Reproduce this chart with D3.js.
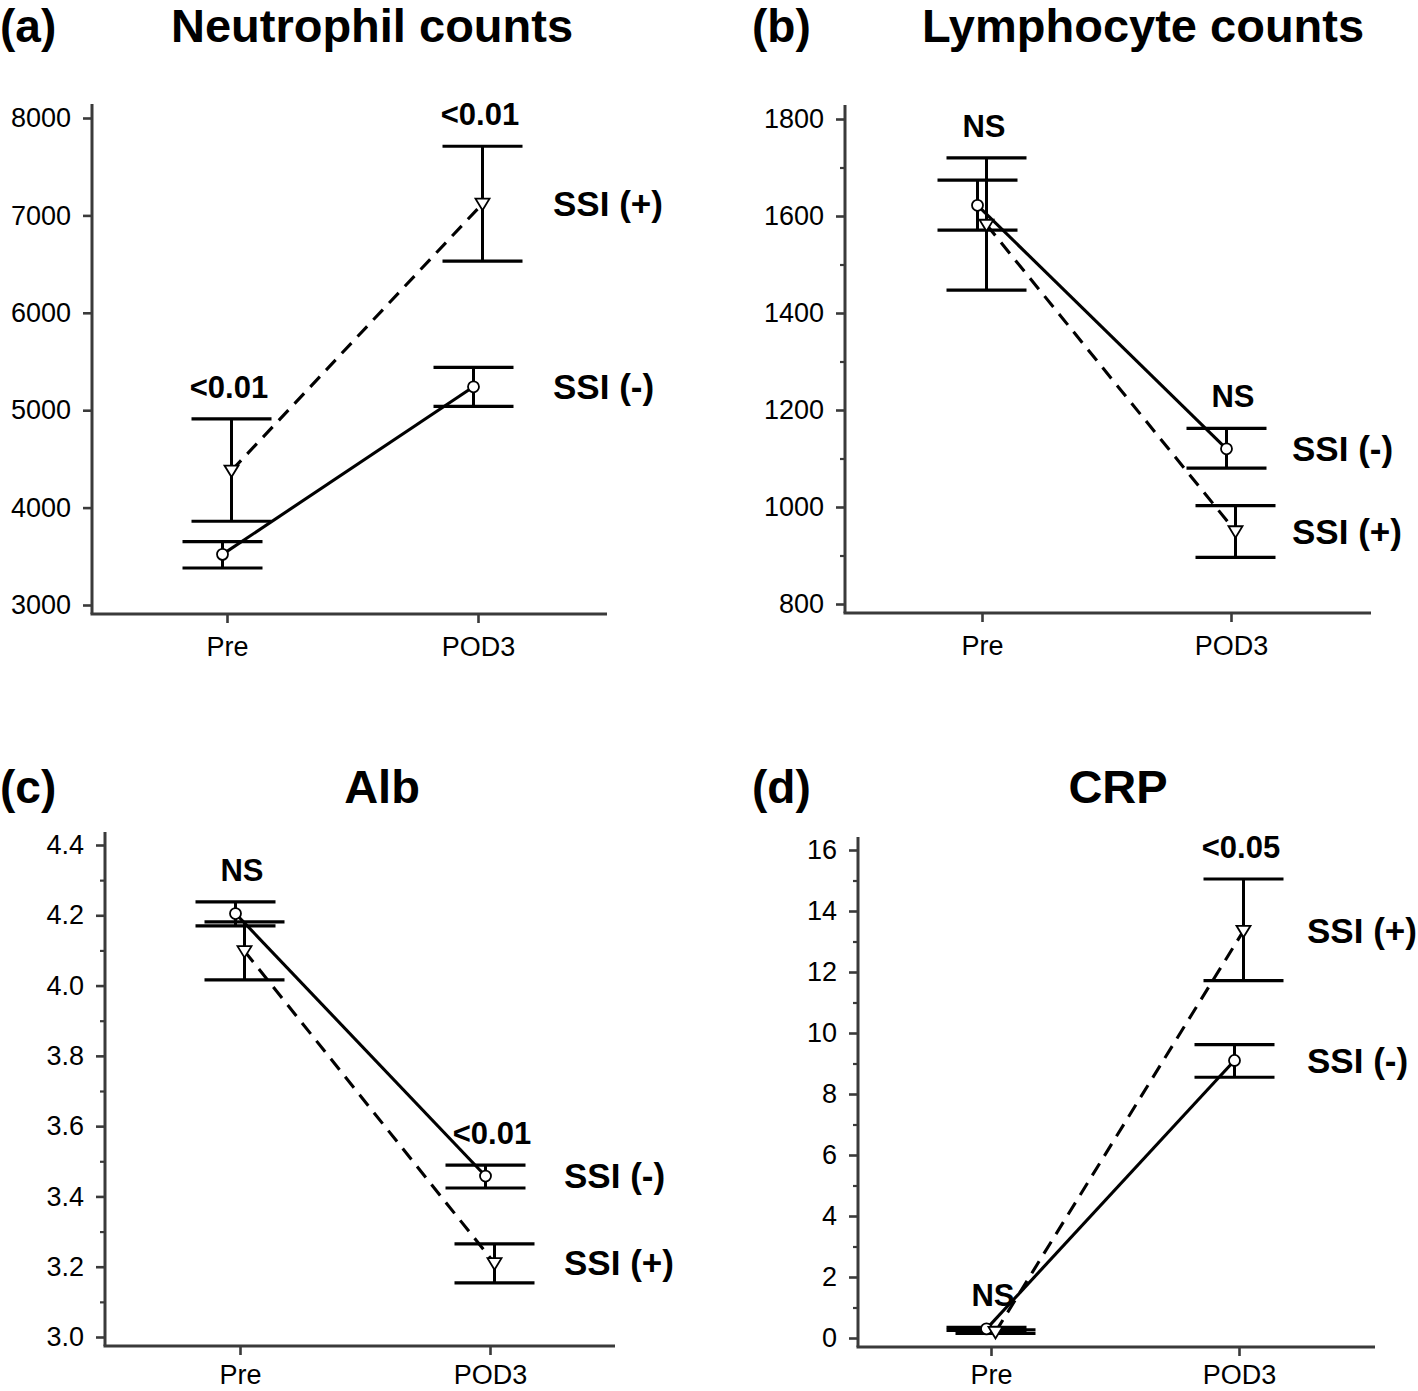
<!DOCTYPE html>
<html><head><meta charset="utf-8">
<script src="https://cdn.jsdelivr.net/npm/d3@7"></script>
<style>body{margin:0;background:#fff}svg text{font-family:"Liberation Sans",Arial,Helvetica,sans-serif}</style>
</head><body><svg id="chart" width="1418" height="1391"></svg>
<script>
const categories = ["Pre", "POD3"];
const panelTags = ["(a)", "(b)", "(c)", "(d)"];
const panelTitles = ["Neutrophil counts", "Lymphocyte counts", "Alb", "CRP"];
const seriesNames = ["SSI (-)", "SSI (+)"];

// (a) Neutrophil counts
const neutTicks = [3000, 4000, 5000, 6000, 7000, 8000];
const neutNegMean = [3520, 5240];
const neutNegLow = [3380, 5040];
const neutNegHigh = [3650, 5440];
const neutPosMean = [4380, 7120];
const neutPosLow = [3860, 6530];
const neutPosHigh = [4910, 7710];
const neutP = ["<0.01", "<0.01"];

// (b) Lymphocyte counts
const lymTicks = [800, 1000, 1200, 1400, 1600, 1800];
const lymNegMean = [1622, 1120];
const lymNegLow = [1571, 1080];
const lymNegHigh = [1674, 1162];
const lymPosMean = [1582, 950];
const lymPosLow = [1447, 896];
const lymPosHigh = [1720, 1003];
const lymP = ["NS", "NS"];

// (c) Alb
const albTicks = [3.0, 3.2, 3.4, 3.6, 3.8, 4.0, 4.2, 4.4];
const albNegMean = [4.205, 3.458];
const albNegLow = [4.17, 3.424];
const albNegHigh = [4.238, 3.489];
const albPosMean = [4.098, 3.21];
const albPosLow = [4.016, 3.154];
const albPosHigh = [4.181, 3.265];
const albP = ["NS", "<0.01"];

// (d) CRP
const crpTicks = [0, 2, 4, 6, 8, 10, 12, 14, 16];
const crpNegMean = [0.3, 9.1];
const crpNegLow = [0.25, 8.55];
const crpNegHigh = [0.35, 9.62];
const crpPosMean = [0.2, 13.35];
const crpPosLow = [0.15, 11.72];
const crpPosHigh = [0.27, 15.05];
const crpP = ["NS", "<0.05"];

const panels = [
  {tag: panelTags[0], title: panelTitles[0], ticks: neutTicks, fmt: d3.format("d"), minor: false,
   neg: [neutNegMean, neutNegLow, neutNegHigh], pos: [neutPosMean, neutPosLow, neutPosHigh], p: neutP,
   L: {axisX: 92, yTop: 118, yBot: 605, axisTop: 104, xAxisY: 614, xRight: 607, preX: 227, podX: 478, tagX: 0, titleX: 372, titleY: 42, labelDx: 75, xPad: 14}},
  {tag: panelTags[1], title: panelTitles[1], ticks: lymTicks, fmt: d3.format("d"), minor: true,
   neg: [lymNegMean, lymNegLow, lymNegHigh], pos: [lymPosMean, lymPosLow, lymPosHigh], p: lymP,
   L: {axisX: 845, yTop: 119, yBot: 604, axisTop: 105, xAxisY: 613, xRight: 1371, preX: 982, podX: 1231, tagX: 752, titleX: 1143, titleY: 42, labelDx: 61, xPad: 14}},
  {tag: panelTags[2], title: panelTitles[2], ticks: albTicks, fmt: d3.format(".1f"), minor: true,
   neg: [albNegMean, albNegLow, albNegHigh], pos: [albPosMean, albPosLow, albPosHigh], p: albP,
   L: {axisX: 105, yTop: 845, yBot: 1337, axisTop: 832, xAxisY: 1346, xRight: 615, preX: 240, podX: 490, tagX: 0, titleX: 382, titleY: 803, labelDx: 74, xPad: 10}},
  {tag: panelTags[3], title: panelTitles[3], ticks: crpTicks, fmt: d3.format("d"), minor: true,
   neg: [crpNegMean, crpNegLow, crpNegHigh], pos: [crpPosMean, crpPosLow, crpPosHigh], p: crpP,
   L: {axisX: 858, yTop: 850, yBot: 1338, axisTop: 837, xAxisY: 1347, xRight: 1375, preX: 991, podX: 1239, tagX: 752, titleX: 1118, titleY: 803, labelDx: 68, xPad: 9}}
];

const svg = d3.select("#chart");
const axisColor = "#3a3a3a";
const dodge = 4.5;
const capHalf = 40;

panels.forEach(pn => {
  const L = pn.L;
  const g = svg.append("g");
  const y = d3.scaleLinear().domain([d3.min(pn.ticks), d3.max(pn.ticks)]).range([L.yBot, L.yTop]);
  const x = d3.scalePoint().domain(categories).range([L.preX, L.podX]);

  // titles
  g.append("text").attr("x", L.tagX).attr("y", L.titleY).attr("font-size", 46).attr("font-weight", "bold").text(pn.tag);
  g.append("text").attr("x", L.titleX).attr("y", L.titleY).attr("font-size", 47).attr("font-weight", "bold").attr("text-anchor", "middle").text(pn.title);

  // y axis
  const ya = g.append("g").attr("transform", `translate(${L.axisX},0)`)
    .call(d3.axisLeft(y).tickValues(pn.ticks).tickFormat(pn.fmt).tickSize(9).tickPadding(12).tickSizeOuter(0));
  ya.select(".domain").remove();
  ya.selectAll(".tick line").attr("stroke", axisColor).attr("stroke-width", 2.6);
  ya.selectAll(".tick text").attr("font-size", 27).attr("fill", "#000").attr("font-family", "Liberation Sans, Arial, sans-serif");
  if (pn.minor) {
    const step = pn.ticks[1] - pn.ticks[0];
    const minorVals = pn.ticks.slice(0, -1).map(t => t + step / 2);
    const ym = g.append("g").attr("transform", `translate(${L.axisX},0)`)
      .call(d3.axisLeft(y).tickValues(minorVals).tickFormat("").tickSize(5).tickSizeOuter(0));
    ym.select(".domain").remove();
    ym.selectAll(".tick line").attr("stroke", axisColor).attr("stroke-width", 2.2);
  }
  g.append("line").attr("x1", L.axisX).attr("x2", L.axisX).attr("y1", L.axisTop).attr("y2", L.xAxisY)
    .attr("stroke", axisColor).attr("stroke-width", 3);

  // x axis
  const xa = g.append("g").attr("transform", `translate(0,${L.xAxisY})`)
    .call(d3.axisBottom(x).tickSize(9).tickPadding(L.xPad).tickSizeOuter(0));
  xa.select(".domain").remove();
  xa.selectAll(".tick line").attr("stroke", axisColor).attr("stroke-width", 2.6);
  xa.selectAll(".tick text").attr("font-size", 27).attr("fill", "#000").attr("font-family", "Liberation Sans, Arial, sans-serif");
  g.append("line").attr("x1", L.axisX - 1.5).attr("x2", L.xRight).attr("y1", L.xAxisY).attr("y2", L.xAxisY)
    .attr("stroke", axisColor).attr("stroke-width", 3);

  const series = [
    {name: seriesNames[0], d: pn.neg, off: -dodge, dash: null, marker: "circle"},
    {name: seriesNames[1], d: pn.pos, off: dodge, dash: "14,9", marker: "tri"}
  ];

  // error bars
  series.forEach(s => {
    categories.forEach((c, i) => {
      const cx = x(c) + s.off;
      g.append("line").attr("x1", cx).attr("x2", cx).attr("y1", y(s.d[1][i])).attr("y2", y(s.d[2][i]))
        .attr("stroke", "#000").attr("stroke-width", 3);
      [1, 2].forEach(k => {
        g.append("line").attr("x1", cx - capHalf).attr("x2", cx + capHalf).attr("y1", y(s.d[k][i])).attr("y2", y(s.d[k][i]))
          .attr("stroke", "#000").attr("stroke-width", 3.2);
      });
    });
  });

  // lines
  series.forEach(s => {
    const line = d3.line().x((v, i) => x(categories[i]) + s.off).y(v => y(v));
    g.append("path").attr("d", line(s.d[0])).attr("fill", "none").attr("stroke", "#000").attr("stroke-width", 3.1)
      .attr("stroke-dasharray", s.dash);
  });

  // markers
  series.forEach(s => {
    categories.forEach((c, i) => {
      const cx = x(c) + s.off, cy = y(s.d[0][i]);
      if (s.marker === "circle") {
        g.append("circle").attr("cx", cx).attr("cy", cy).attr("r", 5.5).attr("fill", "#fff").attr("stroke", "#000").attr("stroke-width", 1.8);
      } else {
        g.append("path").attr("transform", `translate(${cx},${cy})`).attr("d", "M-7,-5L7,-5L0,6.5Z")
          .attr("fill", "#fff").attr("stroke", "#000").attr("stroke-width", 1.8);
      }
    });
  });

  // p-value labels
  categories.forEach((c, i) => {
    const top = Math.min(y(pn.neg[2][i]), y(pn.pos[2][i]));
    g.append("text").attr("x", x(c) + 2).attr("y", top - 21).attr("text-anchor", "middle")
      .attr("font-size", 31).attr("font-weight", "bold").text(pn.p[i]);
  });

  // series labels
  series.forEach(s => {
    g.append("text").attr("x", L.podX + L.labelDx).attr("y", y(s.d[0][1])).attr("dy", "0.35em")
      .attr("font-size", 35).attr("font-weight", "bold").text(s.name);
  });
});
</script>
</body></html>
